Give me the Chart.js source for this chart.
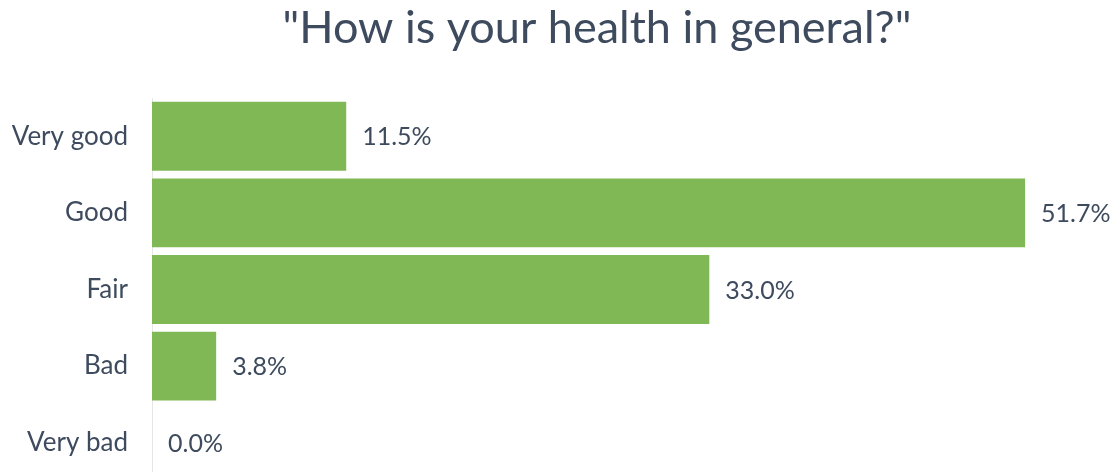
<!DOCTYPE html>
<html>
<head>
<meta charset="utf-8">
<script src="https://cdn.jsdelivr.net/npm/chart.js@4"></script>
<style>
  html, body { margin: 0; padding: 0; background: #fff; overflow: hidden; }
  canvas { display: block; }
</style>
</head>
<body>
<canvas id="healthChart" width="1116" height="490"></canvas>
<script>
// survey answers and their share in percent
var answers = ["Very good", "Good", "Fair", "Bad", "Very bad"];
var shares = [11.5, 51.7, 33.0, 3.8, 0.0];
var xMax = 52.7;

var textColor = '#3e4b5e';
var barGreen = '#80b856';

// writes the percentage to the right of each bar
var valueLabels = {
	id: 'valueLabels',
	afterDatasetsDraw: function(chart) {
		var ctx = chart.ctx;
		var meta = chart.getDatasetMeta(0);
		ctx.save();
		ctx.font = '25px Lato';
		ctx.fillStyle = textColor;
		ctx.textAlign = 'left';
		ctx.textBaseline = 'middle';
		meta.data.forEach(function(bar, i) {
			ctx.fillText(shares[i].toFixed(1) + '%', bar.x + 16, bar.y + 1);
		});
		ctx.restore();
	}
};

var ctxH = document.getElementById("healthChart").getContext('2d');
var healthChart = new Chart(ctxH, {
	type: 'bar',
	data: {
		labels: answers,
		datasets: [{
			label: "Share",
			data: shares,
			backgroundColor: barGreen,
			borderWidth: 0,
			categoryPercentage: 1,
			barPercentage: 0.9
		}]
	},
	options: {
		indexAxis: 'y',
		responsive: false,
		animation: false,
		layout: {
			padding: { left: 0, right: 74, top: 0, bottom: 9 }
		},
		scales: {
			x: {
				display: false,
				min: 0,
				max: xMax
			},
			y: {
				grid: { display: false, drawTicks: false },
				border: { display: true, color: '#e6e6e6', width: 1 },
				ticks: {
					color: textColor,
					font: { family: 'Lato', size: 26 },
					padding: 24
				},
				afterFit: function(scale) {
					// fixed axis width, and no extra room above/below for the labels
					scale.width = 152;
					scale.paddingTop = 0;
					scale.paddingBottom = 0;
				}
			}
		},
		plugins: {
			legend: { display: false },
			tooltip: { enabled: false },
			title: {
				display: true,
				fullSize: false,
				text: '"How is your health in general?"',
				color: textColor,
				font: { family: 'Lato', size: 45, weight: 'normal' },
				padding: { top: 1, bottom: 43 }
			}
		}
	},
	plugins: [valueLabels]
});
</script>
</body>
</html>
